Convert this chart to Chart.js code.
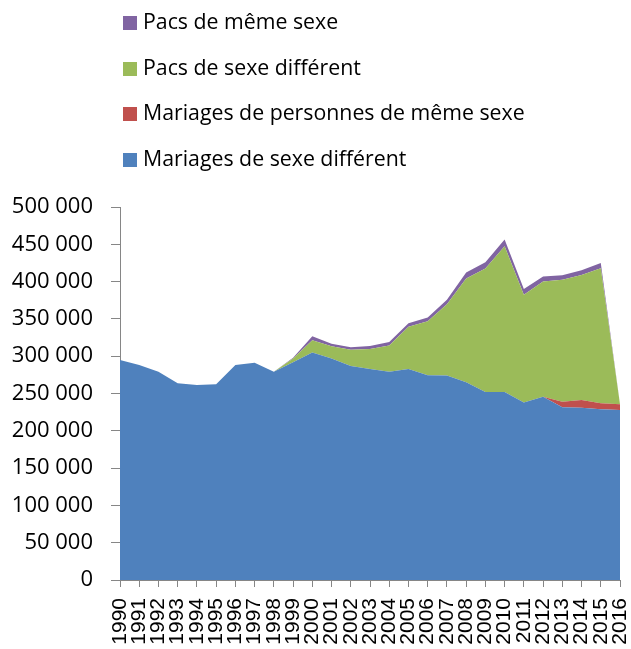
<!DOCTYPE html>
<html>
<head>
<meta charset="utf-8">
<script src="https://cdn.jsdelivr.net/npm/chart.js@4/dist/chart.umd.min.js"></script>
<style>
  html, body { margin: 0; padding: 0; background: #fff; }
  #wrap { position: relative; width: 631px; height: 649px; }
  #legend { position: absolute; left: 0; top: 0; }
  .item { position: absolute; left: 123px; height: 24px; line-height: 24px; white-space: nowrap;
          font-family: "Open Sans", sans-serif; font-size: 21.3px; color: #000; }
  .item span.box { display: inline-block; width: 14px; height: 14px; margin-right: 6px; vertical-align: -1px; }
</style>
</head>
<body>
<div id="wrap">
  <canvas id="chart"></canvas>
  <div id="legend"></div>
</div>
<script>
// Années
const years = ['1990', '1991', '1992', '1993', '1994', '1995', '1996', '1997', '1998', '1999',
  '2000', '2001', '2002', '2003', '2004', '2005', '2006', '2007', '2008', '2009',
  '2010', '2011', '2012', '2013', '2014', '2015', '2016'];

// Séries
const mariagesDiff = [294900, 288200, 279200, 263600, 261400, 262300, 288200, 291300, 279200, 292000,
  305000, 297000, 287000, 283000, 279000, 283000, 274500, 274000, 265000, 252000,
  252000, 238000, 245500, 231500, 231000, 229000, 228000];
const mariagesMeme = [0, 0, 0, 0, 0, 0, 0, 0, 0, 0,
  0, 0, 0, 0, 0, 0, 0, 0, 0, 0,
  0, 0, 0, 7400, 10300, 7800, 7500];
const pacsDiff = [0, 0, 0, 0, 0, 0, 0, 0, 0, 5000,
  16500, 16300, 21500, 26500, 35500, 56500, 72500, 95500, 139000, 165500,
  195500, 144500, 154500, 163500, 167500, 181000, 0];
const pacsMeme = [0, 0, 0, 0, 0, 0, 0, 0, 0, 800,
  5400, 3300, 3500, 4200, 4400, 4600, 5000, 6200, 8200, 8400,
  9100, 7500, 7000, 6100, 6300, 7000, 0];

const yTicks = [0, 50000, 100000, 150000, 200000, 250000, 300000, 350000, 400000, 450000, 500000];

const axisColor = '#868686';

function fmt(v) {
  return String(v).replace(/\B(?=(\d{3})+(?!\d))/g, ' ');
}

function serie(label, values, color, fill) {
  return {
    label: label,
    data: values,
    backgroundColor: color,
    borderColor: color,
    borderWidth: 0,
    pointRadius: 0,
    tension: 0,
    fill: fill
  };
}

const ctx = document.getElementById('chart').getContext('2d');
const chart = new Chart(ctx, {
  type: 'line',
  data: {
    labels: years,
    datasets: [
      serie('Mariages de sexe différent', mariagesDiff, '#4F81BD', 'origin'),
      serie('Mariages de personnes de même sexe', mariagesMeme, '#C0504D', '-1'),
      serie('Pacs de sexe différent', pacsDiff, '#9BBB59', '-1'),
      serie('Pacs de même sexe', pacsMeme, '#8064A2', '-1')
    ]
  },
  options: {
    responsive: true,
    maintainAspectRatio: false,
    animation: false,
    events: [],
    layout: { padding: { top: 207, right: 11, left: 0, bottom: 0 } },
    plugins: {
      legend: { display: false },
      tooltip: { enabled: false }
    },
    scales: {
      x: {
        offset: false,
        afterFit: s => { s.height = 69; s.paddingLeft = 0; s.paddingRight = 0; },
        border: { color: axisColor, width: 1 },
        grid: { drawOnChartArea: false, drawTicks: true, tickLength: 7, color: axisColor },
        ticks: {
          autoSkip: false,
          maxRotation: 90,
          minRotation: 90,
          padding: 11,
          color: '#000',
          font: { family: '"Liberation Sans", Arial, sans-serif', size: 21 }
        }
      },
      y: {
        stacked: true,
        min: 0,
        max: 500000,
        afterFit: s => { s.width = 120; },
        afterBuildTicks: s => { s.ticks = yTicks.map(v => ({ value: v })); },
        border: { color: axisColor, width: 1 },
        grid: { drawOnChartArea: false, drawTicks: true, tickLength: 9, color: axisColor },
        ticks: {
          padding: 18,
          color: '#000',
          font: { family: '"Open Sans", sans-serif', size: 22 },
          callback: v => fmt(v)
        }
      }
    }
  }
});

// Légende verticale, dans l'ordre inverse des séries
const legend = document.getElementById('legend');
const centres = [21, 66.5, 112, 157.5];
chart.data.datasets.slice().reverse().forEach((ds, i) => {
  const div = document.createElement('div');
  div.className = 'item';
  div.style.top = (centres[i] - 12) + 'px';
  div.innerHTML = '<span class="box" style="background:' + ds.backgroundColor + '"></span>' + ds.label;
  legend.appendChild(div);
});
</script>
</body>
</html>
